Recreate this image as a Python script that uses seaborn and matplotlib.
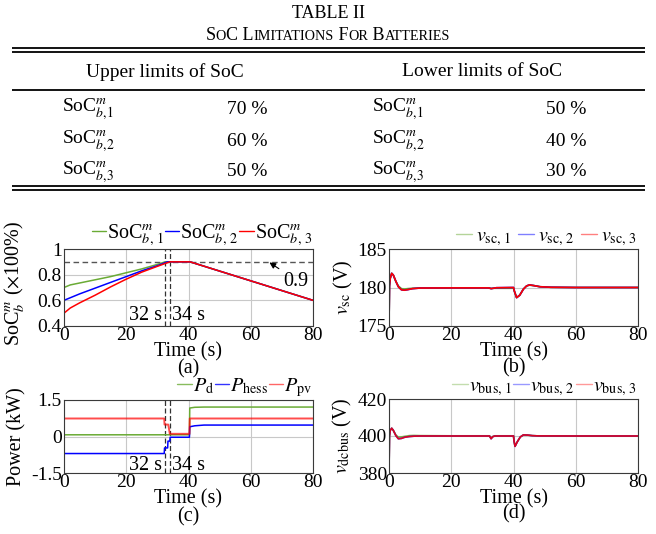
import numpy as np
import pandas as pd
import matplotlib
matplotlib.use("Agg")
import matplotlib.pyplot as plt
import seaborn as sns
from matplotlib.lines import Line2D

# ---------------- table data ----------------
table_title = "TABLE II"
table_subtitle_parts = [("S", True), ("O", False), ("C L", True), ("IMITATIONS", False),
                        (" F", True), ("OR", False), (" B", True), ("ATTERIES", False)]
table_headers = ["Upper limits of SoC", "Lower limits of SoC"]
table_row_labels = [r"SoC$^{m}_{b{,}1}$", r"SoC$^{m}_{b{,}2}$", r"SoC$^{m}_{b{,}3}$"]
upper_limits = ["70 %", "60 %", "50 %"]
lower_limits = ["50 %", "40 %", "30 %"]

# ---------------- (a) SoC ----------------
soc_labels = [r"SoC$^{m}_{b,\,1}$", r"SoC$^{m}_{b,\,2}$", r"SoC$^{m}_{b,\,3}$"]
soc1_t = [0, 2, 5, 10, 15, 20, 25, 30, 32.5, 40.5, 80]
soc1 = [0.70, 0.72, 0.735, 0.76, 0.785, 0.815, 0.845, 0.88, 0.90, 0.90, 0.60]
soc2_t = [0, 5, 10, 15, 20, 25, 30, 33.2, 40.5, 80]
soc2 = [0.60, 0.65, 0.695, 0.74, 0.785, 0.83, 0.87, 0.90, 0.90, 0.60]
soc3_t = [0, 2, 5, 10, 15, 20, 25, 30, 34, 40.5, 80]
soc3 = [0.50, 0.54, 0.58, 0.64, 0.705, 0.765, 0.82, 0.865, 0.90, 0.90, 0.60]
soc_limit = 0.9
event_times = [32.5, 33.9]
event_labels = ["32 s", "34 s"]

# ---------------- (b) v_sc ----------------
vsc_labels = [r"$v_{\rm sc,\,1}$", r"$v_{\rm sc,\,2}$", r"$v_{\rm sc,\,3}$"]
vsc_t = [0, 0.15, 0.4, 0.87, 1.4, 2.2, 3.0, 4.0, 4.9, 6.0, 7.5, 10, 20, 32, 32.8, 33.5, 34.5,
         40, 40.3, 41.0, 42.0, 43.2, 44.2, 45.1, 46.5, 48.5, 52, 60, 80]
vsc1 = [175, 180.2, 181.2, 181.84, 181.6, 180.8, 180.2, 179.85, 179.8, 179.85, 179.9, 179.93, 179.95,
        179.95, 179.9, 179.9, 179.9, 179.9, 179.5, 178.7, 179.0, 179.8, 180.2, 180.3, 180.25, 180.1,
        180.03, 180.0, 180.0]
vsc2 = [175, 180.2, 181.2, 181.84, 181.6, 180.8, 180.1, 179.7, 179.65, 179.72, 179.85, 179.93, 179.95,
        179.95, 179.85, 179.9, 179.97, 180.0, 179.5, 178.68, 179.0, 179.8, 180.2, 180.34, 180.25, 180.1,
        180.03, 180.0, 180.0]
vsc3 = [175, 180.2, 181.2, 181.84, 181.6, 180.8, 180.1, 179.7, 179.65, 179.72, 179.85, 179.93, 179.95,
        179.95, 179.85, 179.9, 179.97, 180.0, 179.5, 178.68, 179.0, 179.8, 180.2, 180.34, 180.25, 180.1,
        180.03, 180.0, 180.0]

# ---------------- (c) power ----------------
power_labels = [r"$P_{\rm d}$", r"$P_{\rm hess}$", r"$P_{\rm pv}$"]
pd_t = [0, 40.3, 40.4, 42, 45, 80]
pd_v = [0.07, 0.07, 1.17, 1.2, 1.21, 1.21]
phess_t = [0, 32.2, 32.3, 33.3, 33.4, 34.0, 34.1, 40.3, 40.4, 42, 45, 80]
phess_v = [-0.70, -0.70, -0.47, -0.47, -0.19, -0.19, -0.03, -0.03, 0.40, 0.44, 0.47, 0.47]
ppv_t = [0, 32.2, 32.3, 33.5, 34.0, 40.3, 40.4, 80]
ppv_v = [0.74, 0.74, 0.49, 0.49, 0.11, 0.11, 0.74, 0.74]

# ---------------- (d) v_bus ----------------
vbus_labels = [r"$v_{\rm bus,\,1}$", r"$v_{\rm bus,\,2}$", r"$v_{\rm bus,\,3}$"]
vbus_t = [0, 0.15, 0.4, 0.87, 1.4, 2.2, 3.0, 4.0, 5.0, 6.5, 8, 10, 20, 32.3, 32.8, 33.3, 34,
          40, 40.2, 40.5, 41.2, 42.2, 43.2, 44.5, 46, 48, 60, 80]
vbus1 = [380, 400, 403, 404.2, 403, 400.6, 399.4, 399.5, 399.8, 400.2, 400.3, 400.2, 400.1, 400.1,
         398.7, 399.7, 400.1, 400.1, 397, 394.5, 396.8, 399.5, 400.6, 400.5, 400.2, 400.05, 400, 400]
vbus2 = [380, 400, 403, 404.2, 403, 400.2, 398.5, 398.7, 399.3, 399.7, 399.9, 400, 400, 400,
         398.5, 399.6, 400, 400, 397, 394.4, 396.8, 399.5, 400.6, 400.5, 400.2, 400.05, 400, 400]
vbus3 = [380, 400, 403, 404.2, 403, 400.2, 398.5, 398.7, 399.3, 399.7, 399.9, 400, 400, 400,
         398.5, 399.6, 400, 400, 397, 394.4, 396.8, 399.5, 400.6, 400.5, 400.2, 400.05, 400, 400]

time_ticks = [0, 20, 40, 60, 80]
colors = ["#6aab35", "#0000ff", "#ff0000"]

# ---------------- style ----------------
sns.set_theme(style="whitegrid")
plt.rcParams.update({
    "font.family": ["Liberation Serif", "DejaVu Serif"],
    "mathtext.fontset": "stix",
    "axes.edgecolor": "#3a3a3a",
    "axes.linewidth": 0.8,
    "grid.color": "#c8c8c8",
    "grid.linewidth": 0.8,
    "xtick.labelsize": 14,
    "ytick.labelsize": 14,
    "axes.labelsize": 14.5,
    "xtick.major.pad": 0.5,
    "ytick.major.pad": 1.5,
    "axes.unicode_minus": False,
    "text.color": "black",
    "xtick.color": "black",
    "ytick.color": "black",
    "axes.labelcolor": "black",
})
FS = 14.5

W, H = 656, 534
fig = plt.figure(figsize=(W / 100, H / 100), dpi=100)


def px_axes(l, t, r, b):
    return fig.add_axes([l / W, 1 - b / H, (r - l) / W, (b - t) / H])


# ---------------- table ----------------
tab = fig.add_axes([0, 1 - 200 / H, 1, 200 / H])
tab.set_xlim(0, W)
tab.set_ylim(200, 0)
tab.axis("off")
tab.text(328, 13, table_title, ha="center", va="center", fontsize=13)
pieces = []
for txt, big in table_subtitle_parts:
    pieces.append(tab.text(0, 40, txt, ha="left", va="baseline", fontsize=13 if big else 10.2))
renderer = fig.canvas.get_renderer()
widths = [p.get_window_extent(renderer).width for p in pieces]
x0 = 328 - sum(widths) / 2
for p, w in zip(pieces, widths):
    p.set_x(x0)
    x0 += w
rule_x = (12, 645)
tab.hlines([47.5, 51.5], *rule_x, color="black", lw=1.3)
tab.hlines([90], *rule_x, color="black", lw=1.3)
tab.hlines([185.5, 189.5], *rule_x, color="black", lw=1.3)
tab.text(165, 72, table_headers[0], ha="center", va="center", fontsize=14)
tab.text(482, 72, table_headers[1], ha="center", va="center", fontsize=14)
row_y = [109, 141, 172]
for y, lab, up, lo in zip(row_y, table_row_labels, upper_limits, lower_limits):
    tab.text(62, y, lab, ha="left", va="center", fontsize=14)
    tab.text(247, y, up, ha="center", va="center", fontsize=14)
    tab.text(372, y, lab, ha="left", va="center", fontsize=14)
    tab.text(566, y, lo, ha="center", va="center", fontsize=14)


def long_df(series):
    frames = []
    for name, t, v in series:
        frames.append(pd.DataFrame({"t": t, "v": v, "s": name}))
    return pd.concat(frames, ignore_index=True)


def style_axes(ax, ylim, yticks, yticklabels, ylabel, letter, ylab_x, letter_y, ylab_y=0.5):
    ax.set_xlim(0, 80)
    ax.set_ylim(*ylim)
    ax.set_xticks(time_ticks)
    ax.set_xticklabels([str(v) for v in time_ticks])
    ax.set_yticks(yticks)
    ax.set_yticklabels(yticklabels)
    ax.set_xlabel("Time (s)", labelpad=-1)
    ax.set_ylabel(ylabel)
    ax.yaxis.set_label_coords(ylab_x, ylab_y)
    ax.text(0.5, letter_y, letter, transform=ax.transAxes, ha="center", va="center", fontsize=FS)
    ax.grid(True)
    for s in ax.spines.values():
        s.set_visible(True)
        s.set_color("#3a3a3a")
        s.set_linewidth(0.8)
    ax.tick_params(length=0)


def top_legend(ax, labels, alphas, hl, tp, cs):
    handles = [Line2D([], [], color=c, lw=1.0, alpha=a) for c, a in zip(colors, alphas)]
    ax.legend(handles, labels, loc="lower right", bbox_to_anchor=(1.0, 1.0), ncol=3, frameon=False,
              handlelength=hl, handletextpad=tp, columnspacing=cs, borderaxespad=0.05,
              borderpad=0.0, fontsize=FS)


# ---------------- (a) ----------------
ax_a = px_axes(64, 249, 313, 326)
df_a = long_df([(soc_labels[0], soc1_t, soc1), (soc_labels[1], soc2_t, soc2), (soc_labels[2], soc3_t, soc3)])
sns.lineplot(data=df_a, x="t", y="v", hue="s", palette=colors, estimator=None, sort=False,
             legend=False, lw=1.1, ax=ax_a)
ax_a.axhline(soc_limit, color="#555555", lw=1.0, ls=(0, (4, 2.5)), zorder=1)
for et in event_times:
    ax_a.axvline(et, color="#333333", lw=0.9, ls=(0, (4, 2)), zorder=1)
ax_a.text(31.5, 0.478, event_labels[0], ha="right", va="center", fontsize=FS)
ax_a.text(34.6, 0.478, event_labels[1], ha="left", va="center", fontsize=FS)
ax_a.annotate("0.9", xy=(66, 0.895), xytext=(74.5, 0.75), ha="center", va="center", fontsize=FS,
              arrowprops=dict(arrowstyle="-|>", color="black", lw=0.8, mutation_scale=9,
                              relpos=(0.0, 1.0), shrinkA=1, shrinkB=0))
style_axes(ax_a, (0.4, 1.0), [0.4, 0.6, 0.8, 1.0], ["0.4", "0.6", "0.8", "1"],
           r"SoC$^{m}_{b}$ ($\times$100%)", "(a)", -0.15, -0.56, ylab_y=0.56)
top_legend(ax_a, soc_labels, [1, 1, 1], 0.7, 0.05, 0.05)

# ---------------- (b) ----------------
ax_b = px_axes(389, 249, 638, 326)
df_b = long_df([(vsc_labels[0], vsc_t, vsc1), (vsc_labels[1], vsc_t, vsc2), (vsc_labels[2], vsc_t, vsc3)])
sns.lineplot(data=df_b, x="t", y="v", hue="s", palette=colors, estimator=None, sort=False,
             legend=False, lw=1.2, ax=ax_b)
style_axes(ax_b, (175, 185), [175, 180, 185], ["175", "180", "185"],
           r"$v_{\rm sc}$ (V)", "(b)", -0.137, -0.545)
top_legend(ax_b, vsc_labels, [0.5, 0.5, 0.5], 0.8, 0.2, 0.3)

# ---------------- (c) ----------------
ax_c = px_axes(64, 400, 313, 473)
df_c = long_df([(power_labels[0], pd_t, pd_v), (power_labels[1], phess_t, phess_v), (power_labels[2], ppv_t, ppv_v)])
sns.lineplot(data=df_c[df_c.s == power_labels[0]], x="t", y="v", color=colors[0], estimator=None,
             sort=False, lw=1.1, ax=ax_c)
sns.lineplot(data=df_c[df_c.s == power_labels[1]], x="t", y="v", color=colors[1], estimator=None,
             sort=False, lw=1.1, ax=ax_c)
sns.lineplot(data=df_c[df_c.s == power_labels[2]], x="t", y="v", color=colors[2], estimator=None,
             sort=False, lw=1.4, alpha=0.7, ax=ax_c)
for et in event_times:
    ax_c.axvline(et, color="#333333", lw=0.9, ls=(0, (4, 2)), zorder=1)
ax_c.text(31.4, -1.21, event_labels[0], ha="right", va="center", fontsize=FS)
ax_c.text(34.6, -1.21, event_labels[1], ha="left", va="center", fontsize=FS)
style_axes(ax_c, (-1.5, 1.5), [-1.5, 0, 1.5], ["-1.5", "0", "1.5"],
           "Power (kW)", "(c)", -0.152, -0.60)
top_legend(ax_c, power_labels, [0.8, 0.8, 0.6], 0.7, 0.05, 0.05)

# ---------------- (d) ----------------
ax_d = px_axes(389, 399, 638, 473)
df_d = long_df([(vbus_labels[0], vbus_t, vbus1), (vbus_labels[1], vbus_t, vbus2), (vbus_labels[2], vbus_t, vbus3)])
sns.lineplot(data=df_d, x="t", y="v", hue="s", palette=colors, estimator=None, sort=False,
             legend=False, lw=1.2, alpha=0.85, ax=ax_d)
style_axes(ax_d, (380, 420), [380, 400, 420], ["380", "400", "420"],
           r"$v_{\rm dcbus}$ (V)", "(d)", -0.14, -0.555)
top_legend(ax_d, vbus_labels, [0.4, 0.4, 0.4], 0.8, 0.05, 0.05)

fig.savefig("out.png", dpi=100)
